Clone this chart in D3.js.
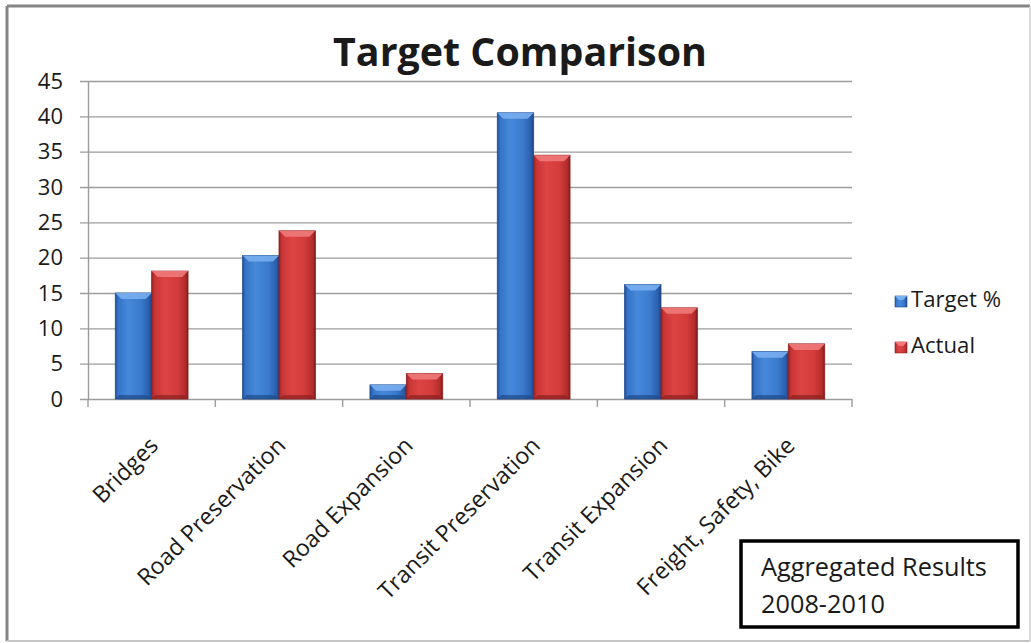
<!DOCTYPE html>
<html>
<head>
<meta charset="utf-8">
<script src="https://cdn.jsdelivr.net/npm/d3@7"></script>
<style>
  body { margin: 0; background: #fff; }
  svg { display: block; }
  text { font-family: "Open Sans", sans-serif; fill: #1a1a1a; }
</style>
</head>
<body>
<svg id="chart" width="1031" height="643"></svg>
<script>
// Share of funding by program area: target vs. actual (percent)
const categories = ["Bridges", "Road Preservation", "Road Expansion", "Transit Preservation", "Transit Expansion", "Freight, Safety, Bike"];
const seriesNames = ["Target %", "Actual"];
const targetValues = [15, 20.3, 2, 40.5, 16.2, 6.7];
const actualValues = [18.1, 23.8, 3.6, 34.5, 12.9, 7.8];
const yTicks = [0, 5, 10, 15, 20, 25, 30, 35, 40, 45];
const titleText = "Target Comparison";
const noteLines = ["Aggregated Results", "2008-2010"];

const svg = d3.select("#chart");
const plot = { left: 88, right: 852, top: 81, bottom: 399 };

// frame around the chart area
svg.append("line").attr("x1", 7).attr("y1", 6).attr("x2", 1030).attr("y2", 6)
  .attr("stroke", "#858585").attr("stroke-width", 3);
svg.append("line").attr("x1", 7).attr("y1", 6).attr("x2", 7).attr("y2", 641)
  .attr("stroke", "#858585").attr("stroke-width", 3);
svg.append("line").attr("x1", 7).attr("y1", 641).attr("x2", 1030).attr("y2", 641)
  .attr("stroke", "#c4c4c4").attr("stroke-width", 2);
svg.append("line").attr("x1", 1030).attr("y1", 6).attr("x2", 1030).attr("y2", 641)
  .attr("stroke", "#d0d0d0").attr("stroke-width", 1.5);

const x = d3.scaleBand().domain(categories).range([plot.left, plot.right]).padding(0);
const xs = d3.scaleBand().domain(seriesNames).range([0, x.bandwidth()])
  .paddingInner(0).paddingOuter(0.75);
const y = d3.scaleLinear().domain([0, 45]).range([plot.bottom, plot.top]);

// gridlines
const grid = svg.append("g").attr("transform", `translate(${plot.right},0)`)
  .call(d3.axisLeft(y).tickValues(yTicks).tickSize(plot.right - 80).tickFormat(""));
grid.select(".domain").remove();
grid.selectAll("line").attr("stroke", "#9c9c9c").attr("stroke-width", 1.4);

// y axis with labels
const yAxis = svg.append("g").attr("transform", `translate(${plot.left},0)`)
  .call(d3.axisLeft(y).tickValues(yTicks).tickSize(0).tickSizeOuter(0).tickPadding(25));
yAxis.select(".domain").attr("stroke", "#9c9c9c").attr("stroke-width", 1.4);
yAxis.selectAll("text").attr("font-size", 22).attr("fill", "#1a1a1a")
  .style("font-family", '"Open Sans", sans-serif');

// x axis tick marks at category boundaries
const bounds = categories.map(c => x(c)).concat([plot.right]);
svg.append("g").selectAll("line").data(bounds).join("line")
  .attr("x1", d => d).attr("x2", d => d).attr("y1", plot.bottom).attr("y2", plot.bottom + 8)
  .attr("stroke", "#9c9c9c").attr("stroke-width", 1.4);

// category labels, rotated
const xAxis = svg.append("g").attr("transform", `translate(0,${plot.bottom})`)
  .call(d3.axisBottom(x).tickSize(0));
xAxis.select(".domain").remove();
xAxis.selectAll("text")
  .attr("x", 0).attr("y", 0).attr("dy", 0)
  .attr("text-anchor", "end")
  .attr("transform", "translate(8,48) rotate(-45)")
  .attr("font-size", 23.2).attr("fill", "#1a1a1a")
  .style("font-family", '"Open Sans", sans-serif');

// bar gradients
const defs = svg.append("defs");
const palettes = {
  "Target %": { stops: ["#21509a", "#3574c8", "#4688d9", "#3a7bcd", "#2a5fae", "#1d4583"], bevel: "#79aef0", bottom: "#1f4a8c" },
  "Actual":   { stops: ["#9a2222", "#c93434", "#dc4444", "#d43c3c", "#b52c2c", "#7f1c1c"], bevel: "#f07a7a", bottom: "#8e2020" }
};
const offsets = [0, 0.08, 0.35, 0.7, 0.92, 1];
seriesNames.forEach((s, i) => {
  const g = defs.append("linearGradient").attr("id", "grad" + i)
    .attr("x1", "0%").attr("x2", "100%").attr("y1", "0%").attr("y2", "0%");
  palettes[s].stops.forEach((c, k) => g.append("stop").attr("offset", offsets[k]).attr("stop-color", c));
});

const seriesValues = [targetValues, actualValues];
const rows = categories.map((c, i) => ({ cat: c, vals: seriesNames.map((s, k) => ({ s, k, v: seriesValues[k][i] })) }));

const bars = svg.append("g").selectAll("g").data(rows).join("g")
  .attr("transform", d => `translate(${x(d.cat)},0)`)
  .selectAll("g").data(d => d.vals).join("g");

bars.append("rect")
  .attr("x", d => xs(d.s)).attr("width", xs.bandwidth())
  .attr("y", d => y(d.v)).attr("height", d => y(0) - y(d.v))
  .attr("fill", d => `url(#grad${d.k})`)
  .attr("stroke", d => palettes[d.s].bottom).attr("stroke-width", 0.8);

// top bevel
bars.append("path")
  .attr("d", d => {
    const x0 = xs(d.s), x1 = x0 + xs.bandwidth(), t = y(d.v);
    const b = Math.min(6, (y(0) - t) / 2);
    return `M${x0},${t}L${x1},${t}L${x1 - b},${t + b}L${x0 + b},${t + b}Z`;
  })
  .attr("fill", d => palettes[d.s].bevel).attr("opacity", 0.9);

// bottom bevel
bars.append("path")
  .attr("d", d => {
    const x0 = xs(d.s), x1 = x0 + xs.bandwidth(), b0 = y(0);
    const b = Math.min(4, (y(0) - y(d.v)) / 3);
    return `M${x0},${b0}L${x1},${b0}L${x1 - b},${b0 - b}L${x0 + b},${b0 - b}Z`;
  })
  .attr("fill", d => palettes[d.s].bottom).attr("opacity", 0.7);

// helper: size a text element so it spans a given width
function fitSize(sel, width) {
  sel.attr("font-size", 100);
  const w = sel.node().getComputedTextLength();
  const size = 100 * width / w;
  sel.attr("font-size", size);
  return size;
}

// title
const title = svg.append("text").attr("x", 520).attr("y", 66)
  .attr("text-anchor", "middle").attr("font-weight", "bold").attr("fill", "#000")
  .text(titleText);
fitSize(title, 374);

// legend
const legend = svg.append("g");
const legendY = [307, 353];
let legendSize = 22;
seriesNames.forEach((s, i) => {
  legend.append("rect").attr("x", 895).attr("y", legendY[i] - 11).attr("width", 12).attr("height", 11)
    .attr("fill", `url(#grad${i})`).attr("stroke", palettes[s].bottom).attr("stroke-width", 0.6);
  legend.append("path")
    .attr("d", `M895,${legendY[i] - 11}L907,${legendY[i] - 11}L903,${legendY[i] - 7}L899,${legendY[i] - 7}Z`)
    .attr("fill", palettes[s].bevel);
  const t = legend.append("text").attr("x", 911).attr("y", legendY[i]).text(s);
  if (i === 0) legendSize = fitSize(t, 90);
  else t.attr("font-size", legendSize);
});

// note box
svg.append("rect").attr("x", 741).attr("y", 541).attr("width", 277).attr("height", 86)
  .attr("fill", "#fff").attr("stroke", "#000").attr("stroke-width", 3.5);
const n1 = svg.append("text").attr("x", 761).attr("y", 576).text(noteLines[0]);
const noteSize = fitSize(n1, 226);
svg.append("text").attr("x", 761).attr("y", 613).attr("font-size", noteSize).text(noteLines[1]);
</script>
</body>
</html>
